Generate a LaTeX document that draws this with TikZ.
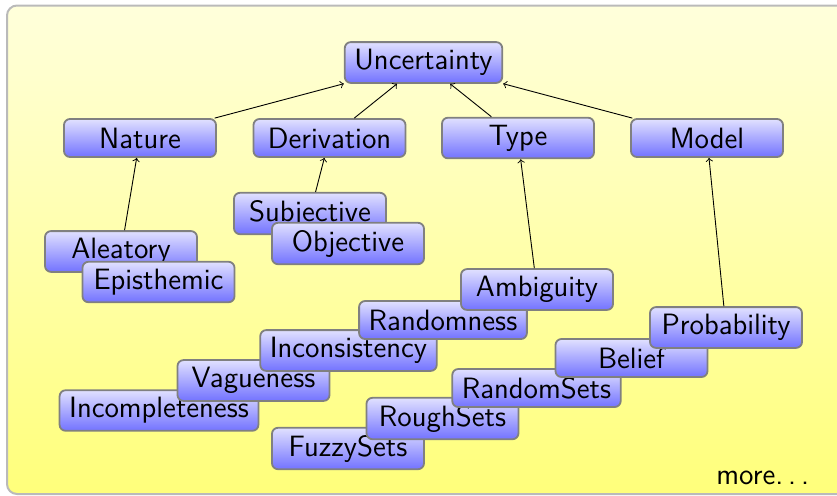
\documentclass[tikz,border=0pt]{standalone}
\begin{document}
\begin{tikzpicture}[x=0.5pt,y=-0.5pt,
  txt/.style={font=\sffamily\fontsize{14.7}{17.5}\selectfont, text=black},
  concept/.style={txt, draw=black!50, line width=0.9pt, rounded corners=3pt,
    top color=blue!12, bottom color=blue!55,
    minimum width=76pt, minimum height=19pt,
    inner xsep=4.8pt, inner ysep=3.6pt},
  link/.style={->, line width=0.45pt, black}]
\useasboundingbox (0,0) rectangle (837,495);
\begin{scope}
  \clip (0,0) rectangle (837,495);
  \draw[draw=black!27, line width=1pt, rounded corners=5pt,
        top color=yellow!14, bottom color=yellow!52] (7,5.5) rectangle (870,494);
\end{scope}

% root and first level
\node[concept] (unc) at (423.5,62.5) {Uncertainty};
\node[concept] (nat) at (140,138) {Nature};
\node[concept] (der) at (329.5,138) {Derivation};
\node[concept] (typ) at (518,138) {Type};
\node[concept] (mod) at (707,138) {Model};

% nature
\node[concept] (ale) at (121,251.5) {Aleatory};
\node[concept] (epi) at (158.5,282) {Episthemic};

% derivation
\node[concept] (sub) at (310,213.5) {Subjective};
\node[concept] (obj) at (348,243.5) {Objective};

% type
\node[concept] (inc) at (159,410.5) {Incompleteness};
\node[concept] (vag) at (253.5,380.5) {Vagueness};
\node[concept] (ics) at (348.5,350.5) {Inconsistency};
\node[concept] (ran) at (443,320) {Randomness};
\node[concept] (amb) at (537,289.5) {Ambiguity};

% model
\node[concept] (fuz) at (348,448.5) {FuzzySets};
\node[concept] (rou) at (442.5,418.5) {RoughSets};
\node[concept] (rse) at (536.5,388) {RandomSets};
\node[concept] (bel) at (631.5,358) {Belief};
\node[concept] (pro) at (726,327.5) {Probability};

% links to parents
\draw[link] (nat) -- (unc);
\draw[link] (der) -- (unc);
\draw[link] (typ) -- (unc);
\draw[link] (mod) -- (unc);
\draw[link] (ale) -- (nat);
\draw[link] (sub) -- (der);
\draw[link] (amb) -- (typ);
\draw[link] (pro) -- (mod);

\node[txt, anchor=base west, inner sep=0pt] (more) at (716,484) {more.\,.\,.};
\end{tikzpicture}
\end{document}
